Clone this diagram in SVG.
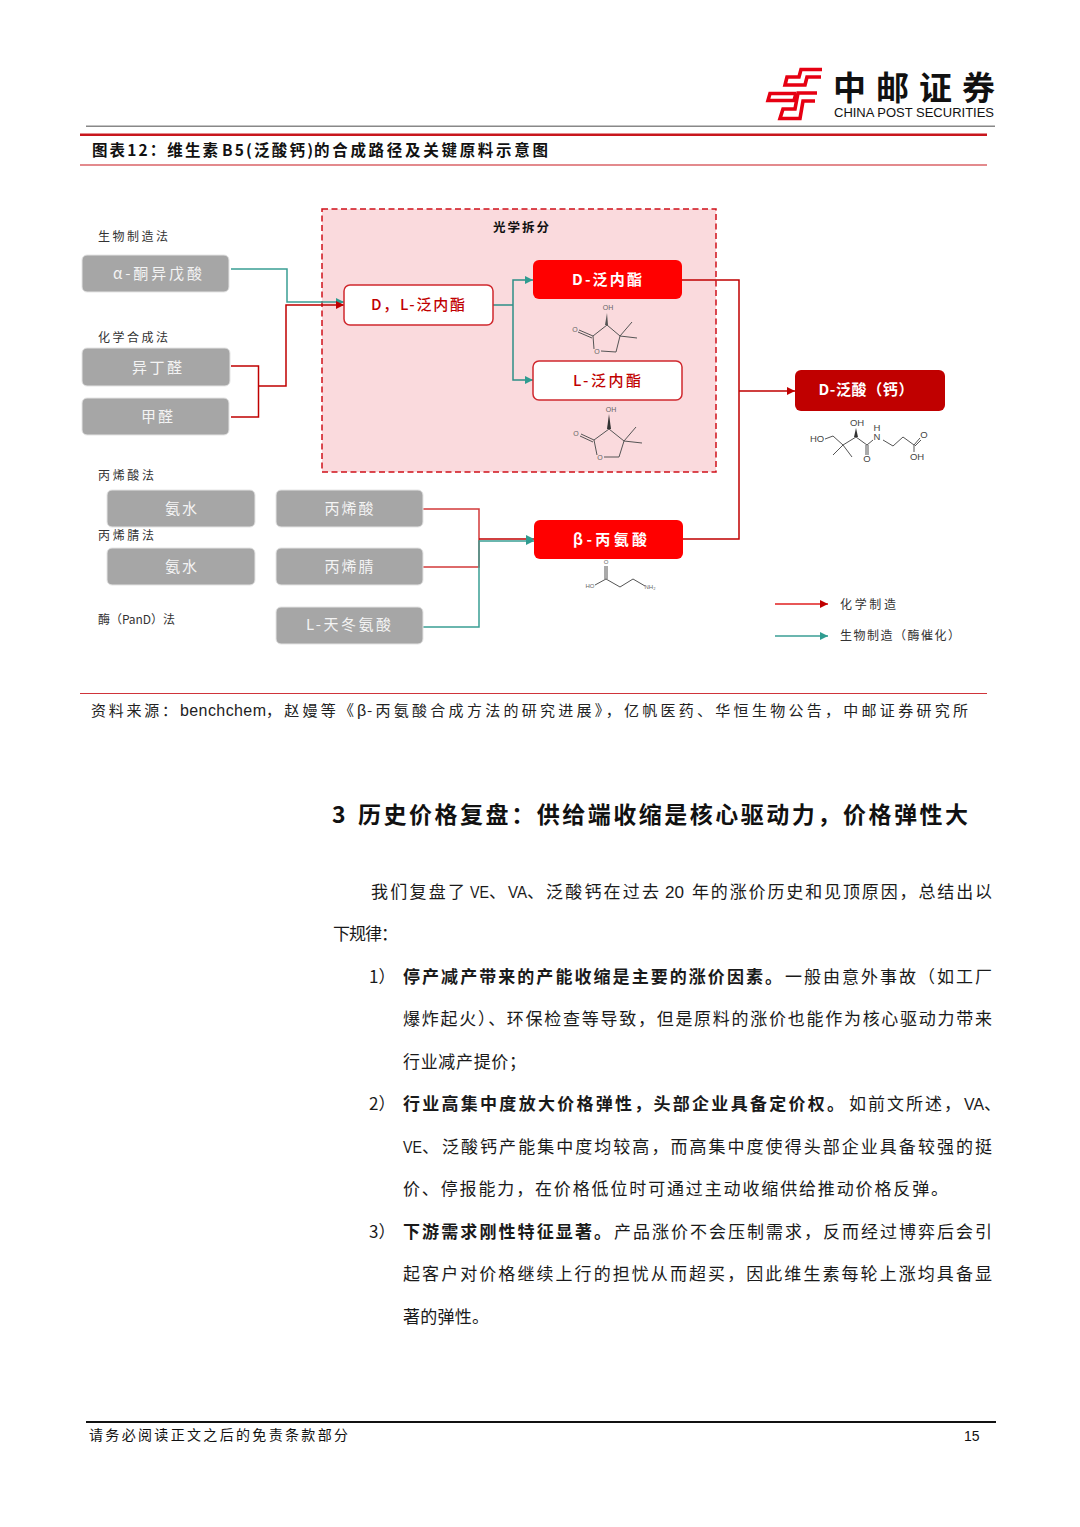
<svg xmlns="http://www.w3.org/2000/svg" width="1080" height="1527" viewBox="0 0 1080 1527">
<style>
text{font-family:"Noto Sans CJK SC","Liberation Sans",sans-serif;fill:#111}
.lat{font-family:"Liberation Sans",Arial,sans-serif}
.lbl{font-size:12px;fill:#333}
.g{fill:#a6a6a6;stroke:#e4e4e4;stroke-width:1}
.gt{font-size:15px;fill:#f4f4f4;text-anchor:middle}
.wt{font-size:15px;fill:#fff;text-anchor:middle;font-weight:700}
.rt{font-size:15px;fill:#c00000;text-anchor:middle;font-weight:500}
.red{fill:none;stroke:#c00000;stroke-width:1.5}
.teal{fill:none;stroke:#3a9e94;stroke-width:1.5}
.mol{fill:none;stroke:#555;stroke-width:1}
.mt{font-family:"Liberation Sans",Arial,sans-serif;font-size:7px;fill:#666;text-anchor:middle}
.mt2{font-family:"Liberation Sans",Arial,sans-serif;font-size:9.5px;fill:#444;text-anchor:middle}
.body{font-size:17px;fill:#1a1a1a}
.bodyl{font-family:"Liberation Sans",Arial,sans-serif;font-size:17px;fill:#1a1a1a}
.bb{font-weight:700}
.src{font-size:15px;fill:#222}
.tt{font-size:15.5px;font-weight:700}
</style>
<defs>
<marker id="ar" markerUnits="userSpaceOnUse" markerWidth="10" markerHeight="10" refX="8" refY="4" orient="auto"><path d="M0 0L8 4L0 8z" fill="#c00000"/></marker>
<marker id="at" markerUnits="userSpaceOnUse" markerWidth="10" markerHeight="10" refX="8" refY="4" orient="auto"><path d="M0 0L8 4L0 8z" fill="#2f9c90"/></marker>
</defs>
<rect width="1080" height="1527" fill="#fff"/>

<g id="logo">
<g fill="none" stroke="#e60012" stroke-width="3.600">
<path d="M822 69.500H801L799 77H787L785 85H805L807 77H821"/>
<path d="M796 93.500H770L768 100.500H794L796 93.500"/>
<path d="M817 93H798L795 109H783L780 118.500H800L803 101H815"/>
</g>
<text x="833" y="100" font-size="33" font-weight="700" textLength="162" lengthAdjust="spacing" fill="#111">中邮证券</text>
<text class="lat" x="834" y="117" font-size="13.2" textLength="160" lengthAdjust="spacingAndGlyphs" fill="#333">CHINA POST SECURITIES</text>
</g>

<g id="header-rules">
<rect x="86" y="125.500" width="909" height="1.500" fill="#888"/>
<rect x="80" y="133.500" width="907" height="2.500" fill="#c8161d"/>
<rect x="80" y="164.500" width="907" height="1" fill="#c8161d"/>
<rect x="80" y="693" width="907" height="1" fill="#d0343a"/>
</g>
<g id="chart-title">
<text class="tt" x="92" y="156" textLength="126" lengthAdjust="spacing">图表12：维生素</text>
<text class="tt" x="222" y="156" textLength="91" lengthAdjust="spacing">B5(泛酸钙)</text>
<text class="tt" x="314" y="156" textLength="234" lengthAdjust="spacing">的合成路径及关键原料示意图</text>
</g>

<g id="zone-optical">
<rect x="322" y="209" width="394" height="263" fill="#fadadd" stroke="#d0101a" stroke-width="1.500" stroke-dasharray="6 3.500"/>
<text x="521" y="232" font-size="12.500" font-weight="700" text-anchor="middle" fill="#222" textLength="56">光学拆分</text>
</g>

<g id="labels">
<text class="lbl" x="98" y="241" textLength="70">生物制造法</text>
<text class="lbl" x="98" y="342" textLength="70">化学合成法</text>
<text class="lbl" x="98" y="480" textLength="56">丙烯酸法</text>
<text class="lbl" x="98" y="540" textLength="56">丙烯腈法</text>
<text class="lbl" x="98" y="624" textLength="77">酶（PanD）法</text>
</g>

<g id="connectors">
<path class="teal" d="M231 269H287V302H344" marker-end="url(#at)"/>
<path class="red" d="M231 366H258.500V417H231M258.500 386H286V305H344" marker-end="url(#ar)"/>
<path class="teal" style="stroke:#2e8f86" d="M493 305H513M533 280H513V380H533"/>
<path d="M525 276L533 280L525 284zM525 376L533 380L525 384z" fill="#2f9c90"/>
<path class="red" d="M682 280H739V539H683M739 391H795" marker-end="url(#ar)"/>
<path class="red" style="stroke:#d23a3a" d="M423 509H479V567H423"/>
<path class="teal" d="M423 627H479V541H534" marker-end="url(#at)"/>
<path class="red" d="M479 539H534" marker-end="url(#at)"/>
<path class="red" style="stroke:#e01f1f" d="M775 604H828" marker-end="url(#ar)"/>
<path class="teal" d="M775 636H828" marker-end="url(#at)"/>
</g>

<g id="n-akiv"><rect class="g" x="82" y="255" width="147" height="37" rx="5"/><text class="gt" x="157.500" y="279" textLength="89">α-酮异戊酸</text></g>
<g id="n-isobutyraldehyde"><rect class="g" x="82" y="348" width="148" height="38" rx="5"/><text class="gt" x="157" y="373" textLength="50">异丁醛</text></g>
<g id="n-formaldehyde"><rect class="g" x="82" y="398" width="147" height="37" rx="5"/><text class="gt" x="157" y="422" textLength="32">甲醛</text></g>
<g id="n-ammonia1"><rect class="g" x="107" y="490" width="148" height="37" rx="5"/><text class="gt" x="181" y="514" textLength="32">氨水</text></g>
<g id="n-acrylic"><rect class="g" x="276" y="490" width="147" height="37" rx="5"/><text class="gt" x="349" y="514" textLength="49">丙烯酸</text></g>
<g id="n-ammonia2"><rect class="g" x="107" y="548" width="148" height="37" rx="5"/><text class="gt" x="181" y="572" textLength="32">氨水</text></g>
<g id="n-acrylonitrile"><rect class="g" x="276" y="548" width="147" height="37" rx="5"/><text class="gt" x="349" y="572" textLength="49">丙烯腈</text></g>
<g id="n-aspartate"><rect class="g" x="276" y="607" width="147" height="37" rx="5"/><text class="gt" x="348.500" y="630" textLength="85">L-天冬氨酸</text></g>
<g id="n-dl"><rect x="344" y="285" width="149" height="40" rx="6" fill="#fff" stroke="#d0282e" stroke-width="1.500"/><text class="rt" x="418" y="310" textLength="94">D，L-泛内酯</text></g>
<g id="n-d"><rect x="533" y="260" width="149" height="39" rx="6" fill="#f00"/><text class="wt" x="607" y="285" textLength="70">D-泛内酯</text></g>
<g id="n-l"><rect x="533" y="361" width="149" height="39" rx="6" fill="#fff" stroke="#d0282e" stroke-width="1.500"/><text class="rt" x="607" y="386" textLength="68">L-泛内酯</text></g>
<g id="n-panto"><rect x="795" y="370" width="150" height="41" rx="6" fill="#c00000"/><text class="wt" x="866" y="395" textLength="95">D-泛酸（钙）</text></g>
<g id="n-beta"><rect x="534" y="520" width="149" height="39" rx="6" fill="#f00"/><text class="wt" x="610" y="545" textLength="74">β-丙氨酸</text></g>

<g id="mol-d">
<path class="mol" d="M607 325L620 336L616 352L601 351M594 349L593 336L607 325M620 336L632 322M620 336L637 338M593 336L579 330M592 338L578 332"/>
<path d="M605 325L608 325L607 313z" fill="#555"/>
<text class="mt" x="608" y="310">OH</text><text class="mt" x="597" y="354">O</text><text class="mt" x="575" y="332">O</text>
</g>
<g id="mol-l">
<path class="mol" d="M609 429L624 441L619 457L604 457M597 455L594 440L609 429M624 441L636 427M624 441L642 443M594 440L581 434M593 442L580 436"/>
<path d="M607 429L611 429L609 414z" fill="#333"/>
<text class="mt" x="611" y="412">OH</text><text class="mt" x="600" y="460">O</text><text class="mt" x="576" y="436">O</text>
</g>
<g id="mol-panto">
<path class="mol" d="M825 439L833 436L843 445L856 437L867 445L873 440M883 440L893 446L903 437L914 445L920 438M915 446L921 440M914 445V452M843 445L833 455M843 445L852 457M866 445V455M868 445V455"/>
<path d="M854 437L858 437L856 428z" fill="#333"/>
<text class="mt2" x="817" y="442">HO</text><text class="mt2" x="857" y="426">OH</text><text class="mt2" x="877" y="431">H</text><text class="mt2" x="877" y="440">N</text><text class="mt2" x="867" y="462">O</text><text class="mt2" x="924" y="438">O</text><text class="mt2" x="917" y="460">OH</text>
</g>
<g id="mol-beta">
<path class="mol" d="M595 585L606 579L620 587L633 579L645 586M605 566V579M607 566V579"/>
<text class="mt" style="font-size:6px" x="606" y="564">O</text><text class="mt" style="font-size:6px" x="590" y="588">HO</text><text class="mt" style="font-size:6px" x="650" y="589">NH₂</text>
</g>

<g id="legend">
<text class="lbl" x="840" y="609" textLength="56">化学制造</text>
<text class="lbl" x="840" y="640" textLength="120">生物制造（酶催化）</text>
</g>

<g id="source">
<text class="src" x="91" y="716" textLength="86">资料来源：</text>
<text class="src lat" style="font-family:'Liberation Sans',Arial,sans-serif;font-size:16px" x="180" y="716" textLength="86">benchchem</text>
<text class="src" x="266" y="716" textLength="88">，赵嫚等《</text>
<text class="src lat" style="font-family:'Liberation Sans',Arial,sans-serif;font-size:16px" x="357" y="716">β</text>
<text class="src" x="367" y="716" textLength="601">-丙氨酸合成方法的研究进展》，亿帆医药、华恒生物公告，中邮证券研究所</text>
</g>

<g id="heading">
<text x="332" y="823" font-size="23" font-weight="700">3</text>
<text x="358" y="823" font-size="23" font-weight="700" textLength="610" lengthAdjust="spacing">历史价格复盘：供给端收缩是核心驱动力，价格弹性大</text>
</g>

<g id="body">
<text class="body" x="371" y="898" textLength="94">我们复盘了</text>
<text class="bodyl" x="470" y="898" textLength="19" lengthAdjust="spacingAndGlyphs">VE</text>
<text class="body" x="489" y="898">、</text>
<text class="bodyl" x="508" y="898" textLength="19" lengthAdjust="spacingAndGlyphs">VA</text>
<text class="body" x="527" y="898">、</text>
<text class="body" x="546" y="898" textLength="113">泛酸钙在过去</text>
<text class="bodyl" x="665" y="898" textLength="19" lengthAdjust="spacingAndGlyphs">20</text>
<text class="body" x="692" y="898" textLength="300">年的涨价历史和见顶原因，总结出以</text>
<text class="body" x="333" y="940" textLength="65">下规律：</text>

<text class="body" x="369" y="983">1）</text>
<text class="body bb" x="403" y="983" textLength="379">停产减产带来的产能收缩是主要的涨价因素。</text>
<text class="body" x="785" y="983" textLength="207">一般由意外事故（如工厂</text>
<text class="body" x="403" y="1025" textLength="589">爆炸起火）、环保检查等导致，但是原料的涨价也能作为核心驱动力带来</text>
<text class="body" x="403" y="1068" textLength="123">行业减产提价；</text>

<text class="body" x="369" y="1110">2）</text>
<text class="body bb" x="403" y="1110" textLength="441">行业高集中度放大价格弹性，头部企业具备定价权。</text>
<text class="body" x="849" y="1110" textLength="112">如前文所述，</text>
<text class="bodyl" x="964" y="1110" textLength="20" lengthAdjust="spacingAndGlyphs">VA</text>
<text class="body" x="984" y="1110">、</text>
<text class="bodyl" x="403" y="1153" textLength="19" lengthAdjust="spacingAndGlyphs">VE</text>
<text class="body" x="422" y="1153">、</text>
<text class="body" x="442" y="1153" textLength="550">泛酸钙产能集中度均较高，而高集中度使得头部企业具备较强的挺</text>
<text class="body" x="403" y="1195" textLength="545">价、停报能力，在价格低位时可通过主动收缩供给推动价格反弹。</text>

<text class="body" x="369" y="1238">3）</text>
<text class="body bb" x="403" y="1238" textLength="208">下游需求刚性特征显著。</text>
<text class="body" x="614" y="1238" textLength="378">产品涨价不会压制需求，反而经过博弈后会引</text>
<text class="body" x="403" y="1280" textLength="589">起客户对价格继续上行的担忧从而超买，因此维生素每轮上涨均具备显</text>
<text class="body" x="403" y="1323" textLength="86">著的弹性。</text>
</g>

<g id="footer">
<rect x="86" y="1421" width="910" height="2" fill="#111"/>
<text x="89" y="1440" font-size="14" textLength="259" lengthAdjust="spacing" fill="#222">请务必阅读正文之后的免责条款部分</text>
<text class="lat" x="964" y="1441" font-size="14" fill="#222">15</text>
</g>
</svg>
